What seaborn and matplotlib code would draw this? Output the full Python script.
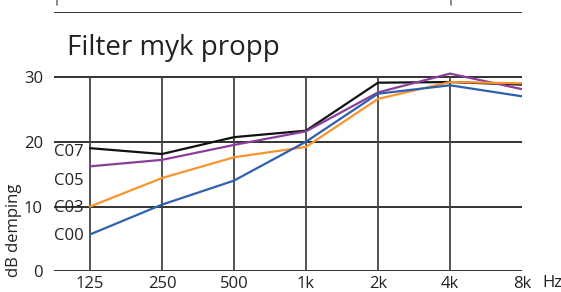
import numpy as np
import pandas as pd
import seaborn as sns
import matplotlib.pyplot as plt

# Frequencies (Hz) and attenuation per filter
freqs = [125, 250, 500, 1000, 2000, 4000, 8000]
freq_labels = ["125", "250", "500", "1k", "2k", "4k", "8k"]
c07 = [19.0, 18.1, 20.7, 21.7, 29.1, 29.2, 28.8]
c05 = [16.2, 17.2, 19.5, 21.6, 27.6, 30.5, 28.1]
c03 = [10.0, 14.4, 17.6, 19.2, 26.6, 29.2, 29.0]
c00 = [5.7, 10.3, 14.0, 20.0, 27.4, 28.7, 27.0]
series_names = ["C07", "C05", "C03", "C00"]
label_y = [18.45, 13.97, 9.8, 5.5]
colors = ["#111111", "#8b3f9b", "#f7942e", "#2e60b0"]

df = pd.DataFrame({
    "freq": freqs * 4,
    "dB": c07 + c05 + c03 + c00,
    "filter": np.repeat(series_names, len(freqs)),
})

sns.set_style("white")
plt.rcParams['font.family'] = ['Open Sans', 'DejaVu Sans']

fig = plt.figure(figsize=(5.61, 2.92), dpi=100)
ax = fig.add_axes([54 / 561, 1 - 271.4 / 292, (522 - 54) / 561, (271.4 - 12) / 292])

# grid
for y in [0, 10, 20, 30, 40]:
    ax.axhline(y, color="#222222", lw=1.3, zorder=1)
ax.vlines(freqs[:-1], 0, 30, color="#444444", lw=1.3, zorder=1)

sns.lineplot(data=df, x="freq", y="dB", hue="filter", palette=colors,
             hue_order=series_names, lw=1.6, legend=False, ax=ax, zorder=3)

xmin = 125 / np.sqrt(2)
ax.set_xscale("log", base=2)
ax.set_xlim(xmin, 8000)
ax.set_ylim(0, 40)
ax.set_xticks(freqs)
ax.set_xticklabels(freq_labels)
ax.set_yticks([0, 10, 20, 30])
ax.set_yticklabels(["0", "10", "20", "30"])
ax.minorticks_off()
ax.tick_params(axis="both", length=0, labelsize=12, colors="#222222")
ax.tick_params(axis="x", pad=3)
ax.tick_params(axis="y", pad=8)
for s in ax.spines.values():
    s.set_visible(False)
ax.set_xlabel("")
ax.set_ylabel("")

for name, y in zip(series_names, label_y):
    ax.text(xmin, y, name, fontsize=12, va="center", ha="left",
            color="#222222", zorder=4)

fig.text(67 / 561, 1 - 48 / 292, "Filter myk propp", fontsize=20, va="center",
         ha="left", color="#222222")
fig.text(14 / 561, 1 - 230 / 292, "dB demping", fontsize=12, rotation=90,
         va="center", ha="center", color="#222222")
fig.text(552 / 561, 1 - 283 / 292, "Hz", fontsize=12, va="center", ha="center",
         color="#222222")

# small stubs at the top edge
for xp in [57, 451]:
    fig.add_artist(plt.Line2D([xp / 561, xp / 561], [1, 1 - 5 / 292],
                              color="#777777", lw=1.2))

fig.savefig("out.png", dpi=100)
